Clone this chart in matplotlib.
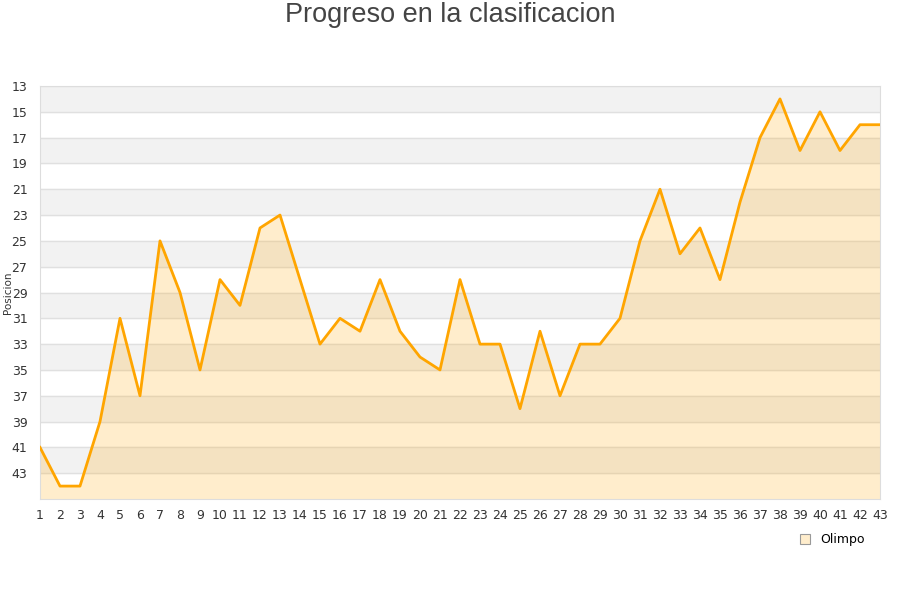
import numpy as np
import matplotlib
matplotlib.use("Agg")
import matplotlib.pyplot as plt
from matplotlib.patches import Patch

plt.rcParams['font.family'] = ['DejaVu Sans']

jornadas = list(range(1, 44))
posicion = [41, 44, 44, 39, 31, 37, 25, 29, 35, 28,
            30, 24, 23, 28, 33, 31, 32, 28, 32, 34,
            35, 28, 33, 33, 38, 32, 37, 33, 33, 31,
            25, 21, 26, 24, 28, 22, 17, 14, 18, 15,
            18, 16, 16]
y_ticks = list(range(13, 45, 2))
equipo = "Olimpo"

fig = plt.figure(figsize=(9, 6), dpi=100)
ax = fig.add_axes([40/900, 101/600, 840/900, 413/600])

# bandas grises alternas
for y0 in range(13, 45, 4):
    ax.axhspan(y0, y0 + 2, color='#f2f2f2', zorder=0)
for y in y_ticks:
    ax.axhline(y, color='#e0e0e0', lw=1, zorder=1)

ax.fill_between(jornadas, posicion, 45, color='orange', alpha=0.2, lw=0, zorder=2)
ax.plot(jornadas, posicion, color='orange', lw=2, zorder=3)

ax.set_xlim(1, 43)
ax.set_ylim(45, 13)
ax.set_xticks(jornadas)
ax.set_yticks(y_ticks)
ax.tick_params(axis='both', length=0, labelsize=9, colors='#333333')
ax.tick_params(axis='x', pad=7)
ax.tick_params(axis='y', pad=9)
for s in ax.spines.values():
    s.set_color('#dddddd')

fig.text(8.5/900, 1 - 293/600, 'Posicion', rotation=90, ha='center', va='center',
         fontsize=7.5, color='#333333')
fig.text(0.5, 1 - 15/600, 'Progreso en la clasificacion', ha='center', va='center',
         fontsize=19.5, color='#444444', family=['Liberation Sans', 'DejaVu Sans'])

handle = Patch(facecolor='#ffedcc', edgecolor='#999999', lw=0.8)
fig.legend([handle], [equipo], loc='center', bbox_to_anchor=(0.925, 0.1), frameon=False,
           fontsize=9, handlelength=0.8, handleheight=0.8, handletextpad=0.8)

fig.savefig('out.png', dpi=100)
